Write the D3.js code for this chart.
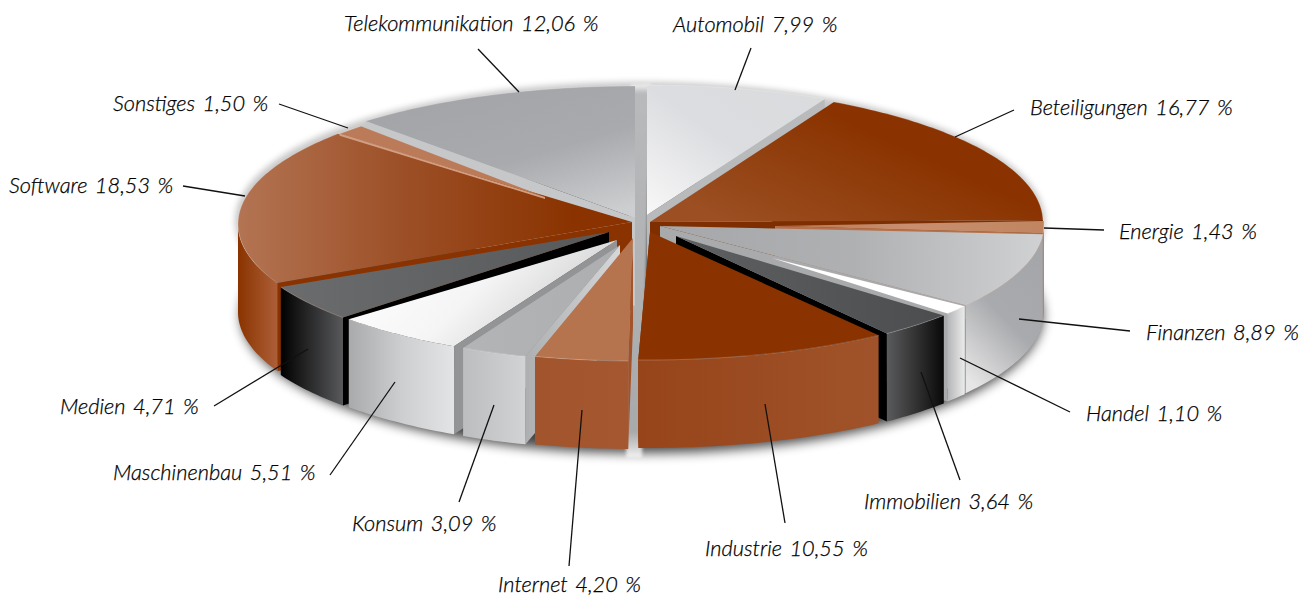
<!DOCTYPE html>
<html><head><meta charset="utf-8">
<script src="https://cdn.jsdelivr.net/npm/d3@7"></script>
<style>html,body{margin:0;background:#fff}svg{display:block}
text{font-family:Lato,sans-serif;font-style:italic;font-weight:300;font-size:21.8px;word-spacing:2px;fill:#000;stroke:#000;stroke-width:.25px}</style></head>
<body><svg id="c" width="1310" height="598"></svg>
<script>
const categories=["Automobil","Beteiligungen","Energie","Finanzen","Handel","Immobilien","Industrie","Internet","Konsum","Maschinenbau","Medien","Software","Sonstiges","Telekommunikation"];
const shares=[7.99,16.77,1.43,8.89,1.10,3.64,10.55,4.20,3.09,5.51,4.71,18.53,1.50,12.06];

// layout: explode offset, angular trim (deg), apex offset from centre
const W=1310,H=598,CX=640,CY=222,RX=403,RY=137,DEPTH=88;
const sliceLayout={
 Automobil:{d:[7,0],trim:[0,2.6],apex:[7,-7]},
 Beteiligungen:{d:[0,0],trim:[0,0],apex:[10,0]},
 Energie:{d:[1,1],trim:[0,0],apex:[135,4]},
 Finanzen:{d:[1,2],trim:[0,0],apex:[20,4]},
 Handel:{d:[0,3],trim:[0,0],apex:[132,36]},
 Immobilien:{d:[1,3],trim:[1,1],apex:[36,14]},
 Industrie:{d:[8,1],trim:[1.7,0],apex:[10,10]},
 Internet:{d:[-2,2],trim:[0,1.7],apex:[-7,16]},
 Konsum:{d:[0,3],trim:[0,1.6],apex:[-20,23]},
 Maschinenbau:{d:[1,3],trim:[0,1],apex:[-23,18]},
 Medien:{d:[0,3],trim:[0,1.4],apex:[-31,10]},
 Software:{d:[1,2],trim:[0,0],apex:[-8,0]},
 Sonstiges:{d:[3,2],trim:[0,1],apex:[-95,-25],faceDepth:2},
 Telekommunikation:{d:[-5,1],trim:[1.5,0],apex:[-5,-4]}
};
const G=(x1,y1,x2,y2,...stops)=>({x1,y1,x2,y2,stops});
const sliceStyle={
 Automobil:{top:G(1,0,0,1,"#dadbdd","#dcdde0","#f8f8f8"),side:"#b9babc",wall:"#ccc"},
 Beteiligungen:{top:G(0,.7,.6,.3,"#9b4f22","#8a3300"),side:"#7e2e00",wall:"#8a3300"},
 Energie:{top:G(0,0,1,0,"#b8754f","#c89070","#c08560"),side:"#b5714c",wall:"#c08560"},
 Finanzen:{top:G(0,0,1,0,"#a5a7aa","#aeb0b2","#cfd1d2"),side:"#a8aaac",wall:G(.7,0,.2,1,"#a5a6a9","#a9aaad","#e6e6e6")},
 Handel:{top:G(0,0,1,0,"#fff","#fff"),side:"#a9aaac",wall:G(0,0,1,0,"#b4b5b7","#ebebeb")},
 Immobilien:{top:G(0,0,1,0,"#5f6062","#4c4d4f"),side:"#000",wall:G(0,0,1,0,"#5a5b5d","#333","#080808")},
 Industrie:{top:G(0,0,1,0,"#8a3300","#8a3300"),side:"#8a3300",wall:G(0,0,1,0,"#97441a","#a0532a")},
 Internet:{top:G(0,0,1,0,"#b5734e","#b5734e"),side:"#a3532a",wall:G(0,0,1,0,"#a2552d","#a5582f")},
 Konsum:{top:G(0,0,1,0,"#b3b4b6","#adaeb0"),side:G(0,0,1,0,"#aeafb1","#d6d7d9"),wall:G(0,0,1,0,"#bcbdbf","#d2d3d5")},
 Maschinenbau:{top:G(0,.2,1,.6,"#fff","#f5f5f5","#c9cacc"),side:"#939496",wall:G(0,0,1,0,"#a9aaac","#cdced0","#e3e4e6")},
 Medien:{top:G(0,0,1,0,"#6b6c6e","#616264","#57585a"),side:"#000",wall:G(0,0,1,0,"#000","#58595b")},
 Software:{top:G(0,0,.85,0,"#b37453","#9c4f26","#8a3300"),side:"#8a3300",wall:G(0,0,1,0,"#8a3300","#ad5f38")},
 Sonstiges:{top:G(0,0,1,0,"#bb7b58","#bb7b58"),side:"#d39e82",wall:"#b5734e"},
 Telekommunikation:{top:G(.3,.1,.85,1,"#a4a5a8","#a9aaad","#cdced0"),side:"#c6c7c9",wall:"#ccc"}
};
const labelLayout={
 Automobil:{at:[673,32],from:[751,48],to:[735,90]},
 Beteiligungen:{at:[1030,115],from:[1014,110],to:[955,137]},
 Energie:{at:[1119,239],from:[1104,230],to:[1044,228]},
 Finanzen:{at:[1146,340],from:[1130,331],to:[1019,319]},
 Handel:{at:[1086,421],from:[1070,412],to:[960,358]},
 Immobilien:{at:[864,509],from:[960,480],to:[921,372]},
 Industrie:{at:[705,556],from:[785,523],to:[765,404]},
 Internet:{at:[498,592],from:[569,566],to:[582,410]},
 Konsum:{at:[352,531],from:[459,502],to:[494,405]},
 Maschinenbau:{at:[113,480],from:[330,475],to:[395,382]},
 Medien:{at:[60,414],from:[214,406],to:[308,349]},
 Software:{at:[9,193],from:[183,186],to:[245,196]},
 Sonstiges:{at:[113,111],from:[279,104],to:[348,128]},
 Telekommunikation:{at:[344,31],from:[478,49],to:[519,92]}
};
const drawOrder=["Telekommunikation","Automobil","Beteiligungen","Energie","Finanzen","Handel","Immobilien","Software","Sonstiges","Industrie","Medien","Maschinenbau","Konsum","Internet"];

const svg=d3.select("#c"),defs=svg.append("defs");
const px=d3.scaleLinear([-1,1],[CX-RX,CX+RX]),py=d3.scaleLinear([-1,1],[CY-RY,CY+RY]);
const pie=d3.pie().sort(null).value(d=>d.v)(categories.map((n,i)=>({n,v:shares[i]})));
const line=d3.line();
const deg=Math.PI/180;
let gid=0;
function paint(p){
 if(typeof p==="string")return p;
 const id="g"+(gid++),g=defs.append("linearGradient").attr("id",id)
  .attr("x1",p.x1).attr("y1",p.y1).attr("x2",p.x2).attr("y2",p.y2);
 p.stops.forEach((c,i)=>{
  const [o,col]=Array.isArray(c)?c:[i/(p.stops.length-1),c];
  g.append("stop").attr("offset",o).attr("stop-color",col);
 });
 return `url(#${id})`;
}
// shadow + centre gap
const blur=defs.append("filter").attr("id","b").attr("x","-10%").attr("y","-20%").attr("width","120%").attr("height","140%");
blur.append("feGaussianBlur").attr("stdDeviation",6);
const blur2=defs.append("filter").attr("id","b2").attr("x","-10%").attr("y","-10%").attr("width","120%").attr("height","120%");
blur2.append("feGaussianBlur").attr("stdDeviation",3);
const blur3=defs.append("filter").attr("id","b3").attr("x","-40%").attr("y","-5%").attr("width","180%").attr("height","110%");
blur3.append("feGaussianBlur").attr("stdDeviation",1.5);
svg.append("ellipse").attr("cx",px(0)+2).attr("cy",CY+DEPTH+5).attr("rx",RX-2).attr("ry",RY+1)
 .attr("fill","#000").attr("opacity",.72).attr("filter","url(#b)");
svg.append("ellipse").attr("cx",px(0)).attr("cy",CY-1).attr("rx",RX+2).attr("ry",RY+2)
 .attr("fill","#000").attr("opacity",.22).attr("filter","url(#b2)");
const gapFill=paint(G(0,0,0,1,[0,"#f4f4f4"],[.025,"#b8b9bb"],[.4,"#b2b3b5"],[.93,"#a8a9ab"],[.97,"#d0d0d0"],[1,"#f4f4f4"]));
svg.append("path").attr("d",line([[631,84],[651,84],[642,458],[626,458]])).attr("fill",gapFill).attr("filter","url(#b3)");

const byName=new Map(pie.map(d=>[d.data.n,d]));
drawOrder.forEach(name=>{
 const s=byName.get(name),L=sliceLayout[name],S=sliceStyle[name];
 const a0=s.startAngle+L.trim[0]*deg,a1=s.endAngle-L.trim[1]*deg;
 const P=a=>[px(Math.sin(a))+L.d[0],py(-Math.cos(a))+L.d[1]];
 const apex=[CX+L.apex[0],CY+L.apex[1]];
 const n=Math.max(4,Math.ceil((a1-a0)/deg));
 const arc=d3.range(n+1).map(i=>P(a0+(a1-a0)*i/n));
 const down=(p,h=DEPTH)=>[p[0],p[1]+h];
 const g=svg.append("g").attr("data-name",name);
 // visible cut face
 const mid=(a0+a1)/2;
 const corner=mid<Math.PI?P(a1):P(a0);
 const fd=L.faceDepth===undefined?DEPTH:L.faceDepth;
 g.append("path").attr("d",line([apex,corner,down(corner,fd),down(apex,fd)])+"Z").attr("fill",paint(S.side));
 // outer wall, front half only
 const f0=Math.max(a0,Math.PI/2),f1=Math.min(a1,Math.PI*1.5);
 if(f1>f0){
  const m=Math.max(4,Math.ceil((f1-f0)/deg));
  const fr=d3.range(m+1).map(i=>P(f0+(f1-f0)*i/m));
  g.append("path").attr("d",line([...fr,...fr.slice().reverse().map(p=>down(p))])+"Z").attr("fill",paint(S.wall));
 }
 // top
 g.append("path").attr("d",line([apex,...arc])+"Z").attr("fill",paint(S.top));
 // light rim along the outer edge
 g.append("path").attr("d",line(arc)).attr("fill","none").attr("stroke","#fff").attr("stroke-opacity",.22).attr("stroke-width",1);
});

const fmt=d3.formatLocale({decimal:",",thousands:".",grouping:[3],currency:["","€"]}).format(".2f");
categories.forEach((name,i)=>{
 const T=labelLayout[name];
 svg.append("line").attr("x1",T.from[0]).attr("y1",T.from[1]).attr("x2",T.to[0]).attr("y2",T.to[1])
  .attr("stroke","#111").attr("stroke-width",1.3);
 svg.append("text").attr("x",T.at[0]).attr("y",T.at[1]).text(`${name} ${fmt(shares[i])} %`);
});
</script></body></html>
